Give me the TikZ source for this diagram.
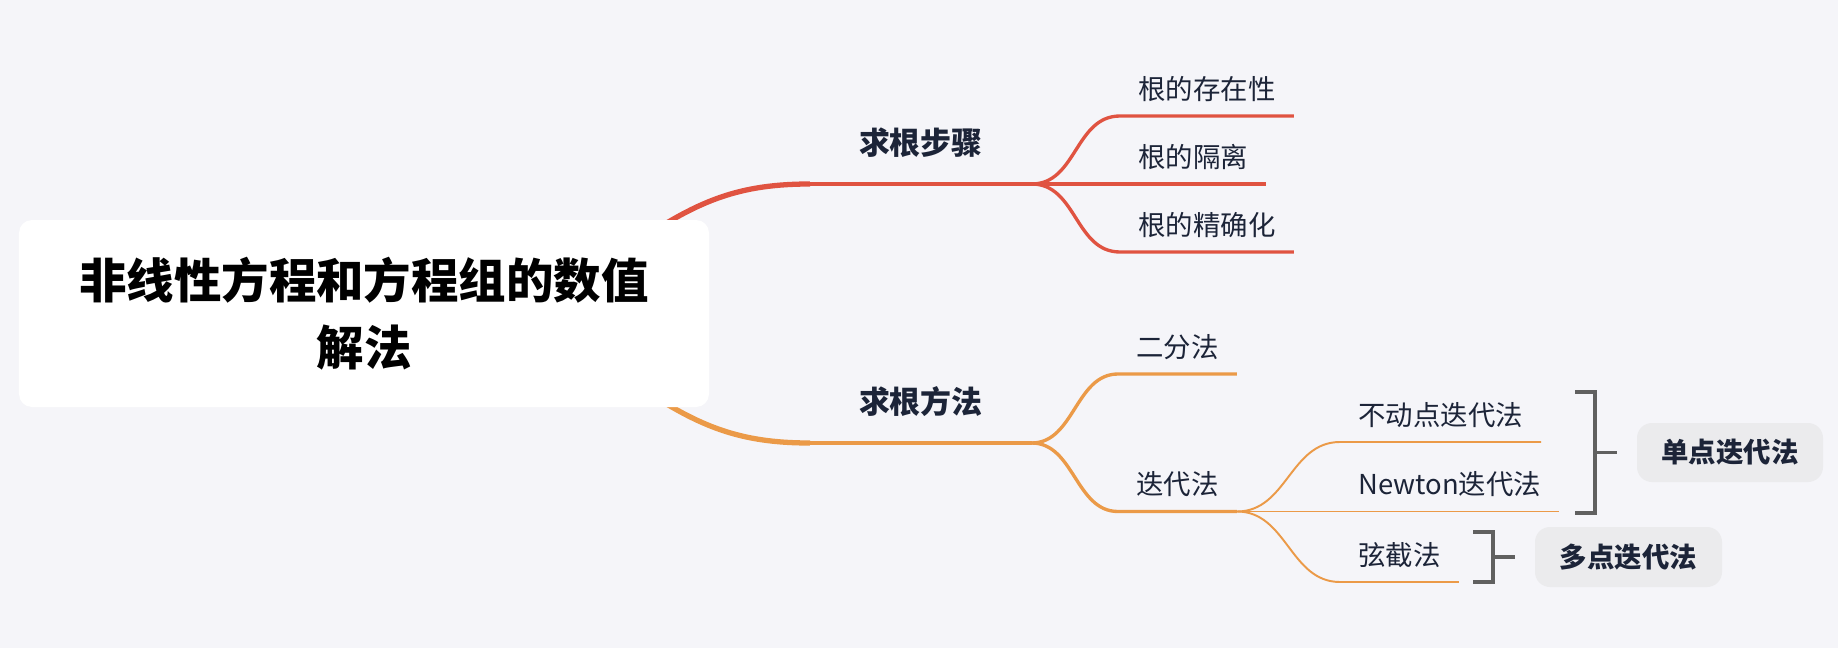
\documentclass[tikz,border=0pt]{standalone}
\usepackage{fontspec}
\setmainfont{Noto Sans CJK SC}
\usepackage{tikz}
\usetikzlibrary{positioning, calc, backgrounds}
\definecolor{bgcol}{RGB}{245,245,249}
\definecolor{redcol}{RGB}{224,83,65}
\definecolor{orangecol}{RGB}{235,154,72}
\definecolor{inkcol}{RGB}{28,36,56}
\definecolor{bracketcol}{RGB}{96,96,96}
\definecolor{tagcol}{RGB}{235,235,237}

\begin{document}
\begin{tikzpicture}[
  root/.style={fill=white, rounded corners=0.26cm, minimum width=13.8cm,
               minimum height=3.74cm, align=center,
               font=\fontsize{27}{38}\selectfont\bfseries},
  topic/.style={anchor=south west, minimum width=4.42cm, inner xsep=0,
                inner ysep=0, text height=0.5cm, text depth=0.585cm,
                font=\fontsize{17.6}{20}\selectfont\bfseries, text=inkcol},
  leaf/.style={anchor=south west, inner xsep=0.36cm, inner ysep=0,
               text height=0.45cm, text depth=0.33cm,
               font=\fontsize{15.6}{18}\selectfont, text=inkcol},
  tag/.style={fill=tagcol, rounded corners=0.3cm, minimum width=3.72cm,
              minimum height=1.18cm, text=inkcol,
              font=\fontsize{15.6}{18}\selectfont\bfseries},
  trunk/.style={line width=3pt},
  limb/.style={line width=2.3pt},
  twig/.style={line width=1.9pt},
  fine/.style={line width=1.1pt},
  bracket/.style={draw=bracketcol, line width=2pt}
]
  \useasboundingbox (0,0) rectangle (36.76,-12.96);
  \begin{scope}[on background layer]
    \fill[bgcol] (0,0) rectangle (36.76,-12.96);
  \end{scope}

  \node[root] (root) at (7.28,-6.27)
    {非线性方程和方程组的数值\\解法};

  \node[topic] (steps) at (16.2,-3.68) {求根步骤};
  \node[leaf] (exist) at (22.4,-2.32) {根的存在性};
  \node[leaf] (isolate) at (22.4,-3.68) {根的隔离};
  \node[leaf] (refine) at (22.4,-5.04) {根的精确化};

  \node[topic] (methods) at (16.2,-8.86) {求根方法};
  \node[leaf] (bisect) at (22.36,-7.48) {二分法};
  \node[leaf] (iterate) at (22.36,-10.23) {迭代法};
  \node[leaf] (fixed) at (26.8,-8.84) {不动点迭代法};
  \node[leaf] (newton) at (26.8,-10.23) {Newton迭代法};
  \node[leaf] (secant) at (26.8,-11.64) {弦截法};

  \node[tag] (single) at (34.6,-9.05) {单点迭代法};
  \node[tag, minimum width=3.74cm, minimum height=1.2cm] (multi)
    at (32.57,-11.14) {多点迭代法};

  \begin{scope}[on background layer]
    \draw[trunk, redcol] ([shift={(-1.38,-0.4)}]root.north east)
      .. controls (14,-4) and (14.8,-3.68) .. (steps.south west);
    \draw[trunk, orangecol] ([shift={(-1.38,0.4)}]root.south east)
      .. controls (14,-8.54) and (14.8,-8.86) .. (methods.south west);
  \end{scope}

  \draw[limb, redcol] (steps.south west) -- (steps.south east);
  \draw[twig, redcol] (steps.south east) .. controls +(0.9,0) and +(-0.9,0)
    .. (exist.south west) -- (exist.south east);
  \draw[twig, redcol] (steps.south east) -- (isolate.south east);
  \draw[twig, redcol] (steps.south east) .. controls +(0.9,0) and +(-0.9,0)
    .. (refine.south west) -- (refine.south east);

  \draw[limb, orangecol] (methods.south west) -- (methods.south east);
  \draw[twig, orangecol] (methods.south east) .. controls +(0.85,0) and +(-0.85,0)
    .. (bisect.south west) -- (bisect.south east);
  \draw[twig, orangecol] (methods.south east) .. controls +(0.85,0) and +(-0.85,0)
    .. (iterate.south west) -- (iterate.south east);

  \draw[fine, orangecol] (iterate.south east) .. controls +(1,0) and +(-1,0)
    .. (fixed.south west) -- (fixed.south east);
  \draw[fine, orangecol] (iterate.south east) -- (newton.south east);
  \draw[fine, orangecol] (iterate.south east) .. controls +(1,0) and +(-1,0)
    .. (secant.south west) -- (secant.south east);

  \draw[bracket] (31.5,-7.84) -- (31.9,-7.84) -- (31.9,-10.26) -- (31.5,-10.26);
  \draw[bracket] (31.9,-9.05) -- ([xshift=-0.4cm]single.west);
  \draw[bracket] (29.46,-10.64) -- (29.86,-10.64) -- (29.86,-11.64) -- (29.46,-11.64);
  \draw[bracket] (29.86,-11.14) -- ([xshift=-0.4cm]multi.west);
\end{tikzpicture}
\end{document}
